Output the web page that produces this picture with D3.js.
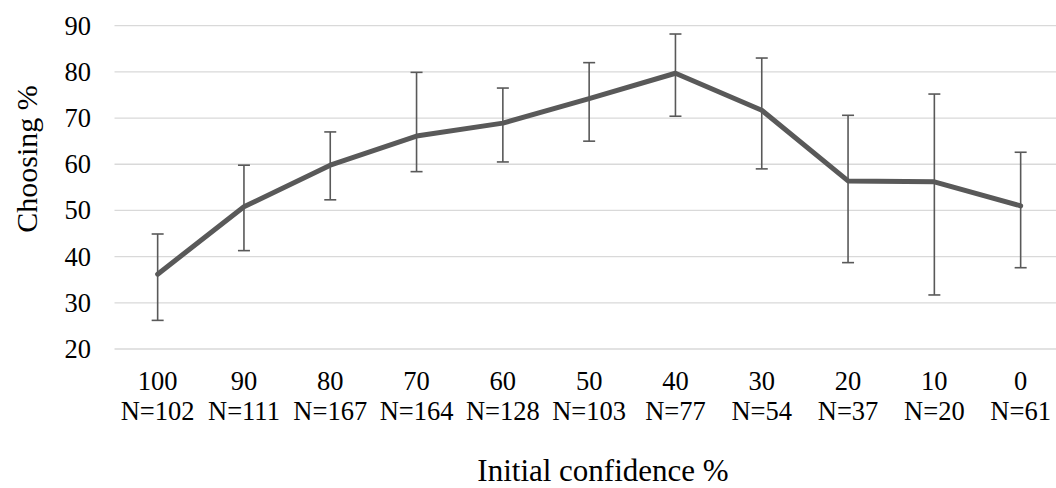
<!DOCTYPE html>
<html><head><meta charset="utf-8">
<script src="https://cdn.jsdelivr.net/npm/d3@7"></script>
<style>body{margin:0;background:#fff}svg{display:block}</style>
</head><body>
<svg id="c" width="1056" height="488"></svg>
<script>
const categories = ["100","90","80","70","60","50","40","30","20","10","0"];
const counts = ["N=102","N=111","N=167","N=164","N=128","N=103","N=77","N=54","N=37","N=20","N=61"];
const values = [36.2, 50.8, 59.8, 66.1, 68.9, 74.2, 79.7, 71.7, 56.4, 56.2, 51.0];
const upper = [44.9, 59.8, 67.0, 79.9, 76.5, 82.0, 88.2, 83.0, 70.6, 75.2, 62.6];
const lower = [26.2, 41.3, 52.3, 58.4, 60.5, 65.0, 70.4, 59.0, 38.7, 31.7, 37.6];
const yTicks = [20,30,40,50,60,70,80,90];

const svg = d3.select("#c");
const font = "'Liberation Serif', 'Times New Roman', serif";
const x = d3.scaleBand().domain(categories).range([114.5, 1063.8]);
const y = d3.scaleLinear().domain([20, 90]).range([349, 25.7]);
const cx = c => x(c) + x.bandwidth()/2;

// gridlines
svg.append("g").selectAll("line").data(yTicks).join("line")
  .attr("x1", 114.5).attr("x2", 1063.8)
  .attr("y1", d => y(d)).attr("y2", d => y(d))
  .attr("stroke", "#d9d9d9").attr("stroke-width", 1.3);

// y axis
const yAxis = svg.append("g").attr("transform", "translate(91,0)")
  .call(d3.axisLeft(y).tickValues(yTicks).tickSize(0).tickPadding(0));
yAxis.select(".domain").remove();
yAxis.selectAll("text").attr("font-family", font).attr("font-size", 26.5).attr("fill", "#000");

// x axis labels
const xAxis = svg.append("g").attr("transform", "translate(0,349)")
  .call(d3.axisBottom(x).tickSize(0).tickPadding(0).tickFormat(() => ""));
xAxis.select(".domain").remove();
xAxis.selectAll(".tick").each(function(d, i) {
  const t = d3.select(this).select("text").text(null)
    .attr("font-family", font).attr("font-size", 26.5).attr("fill", "#000")
    .attr("text-anchor", "middle").attr("dy", null).attr("y", 0);
  t.append("tspan").attr("x", 0).attr("y", 41).text(d);
  t.append("tspan").attr("x", 0).attr("y", 71).text(counts[i]);
});

// error bars
const eb = svg.append("g").attr("stroke", "#595959").attr("stroke-width", 1.6).attr("fill", "none");
eb.selectAll(".v").data(categories).join("line")
  .attr("x1", d => cx(d)).attr("x2", d => cx(d))
  .attr("y1", (d,i) => y(upper[i])).attr("y2", (d,i) => y(lower[i]));
eb.selectAll(".t").data(categories).join("line")
  .attr("x1", d => cx(d) - 6).attr("x2", d => cx(d) + 6)
  .attr("y1", (d,i) => y(upper[i])).attr("y2", (d,i) => y(upper[i]));
eb.selectAll(".b").data(categories).join("line")
  .attr("x1", d => cx(d) - 6).attr("x2", d => cx(d) + 6)
  .attr("y1", (d,i) => y(lower[i])).attr("y2", (d,i) => y(lower[i]));

// line
const line = d3.line().x((d,i) => cx(categories[i])).y(d => y(d));
svg.append("path").datum(values).attr("d", line)
  .attr("fill", "none").attr("stroke", "#595959").attr("stroke-width", 5)
  .attr("stroke-linejoin", "round").attr("stroke-linecap", "round");

// titles
svg.append("text").attr("x", 603).attr("y", 481).attr("text-anchor", "middle")
  .attr("font-family", font).attr("font-size", 31).attr("fill", "#000").text("Initial confidence %");
svg.append("text").attr("transform", "translate(37,159) rotate(-90)").attr("text-anchor", "middle")
  .attr("font-family", font).attr("font-size", 30).attr("fill", "#000").text("Choosing %");
</script>
</body></html>
